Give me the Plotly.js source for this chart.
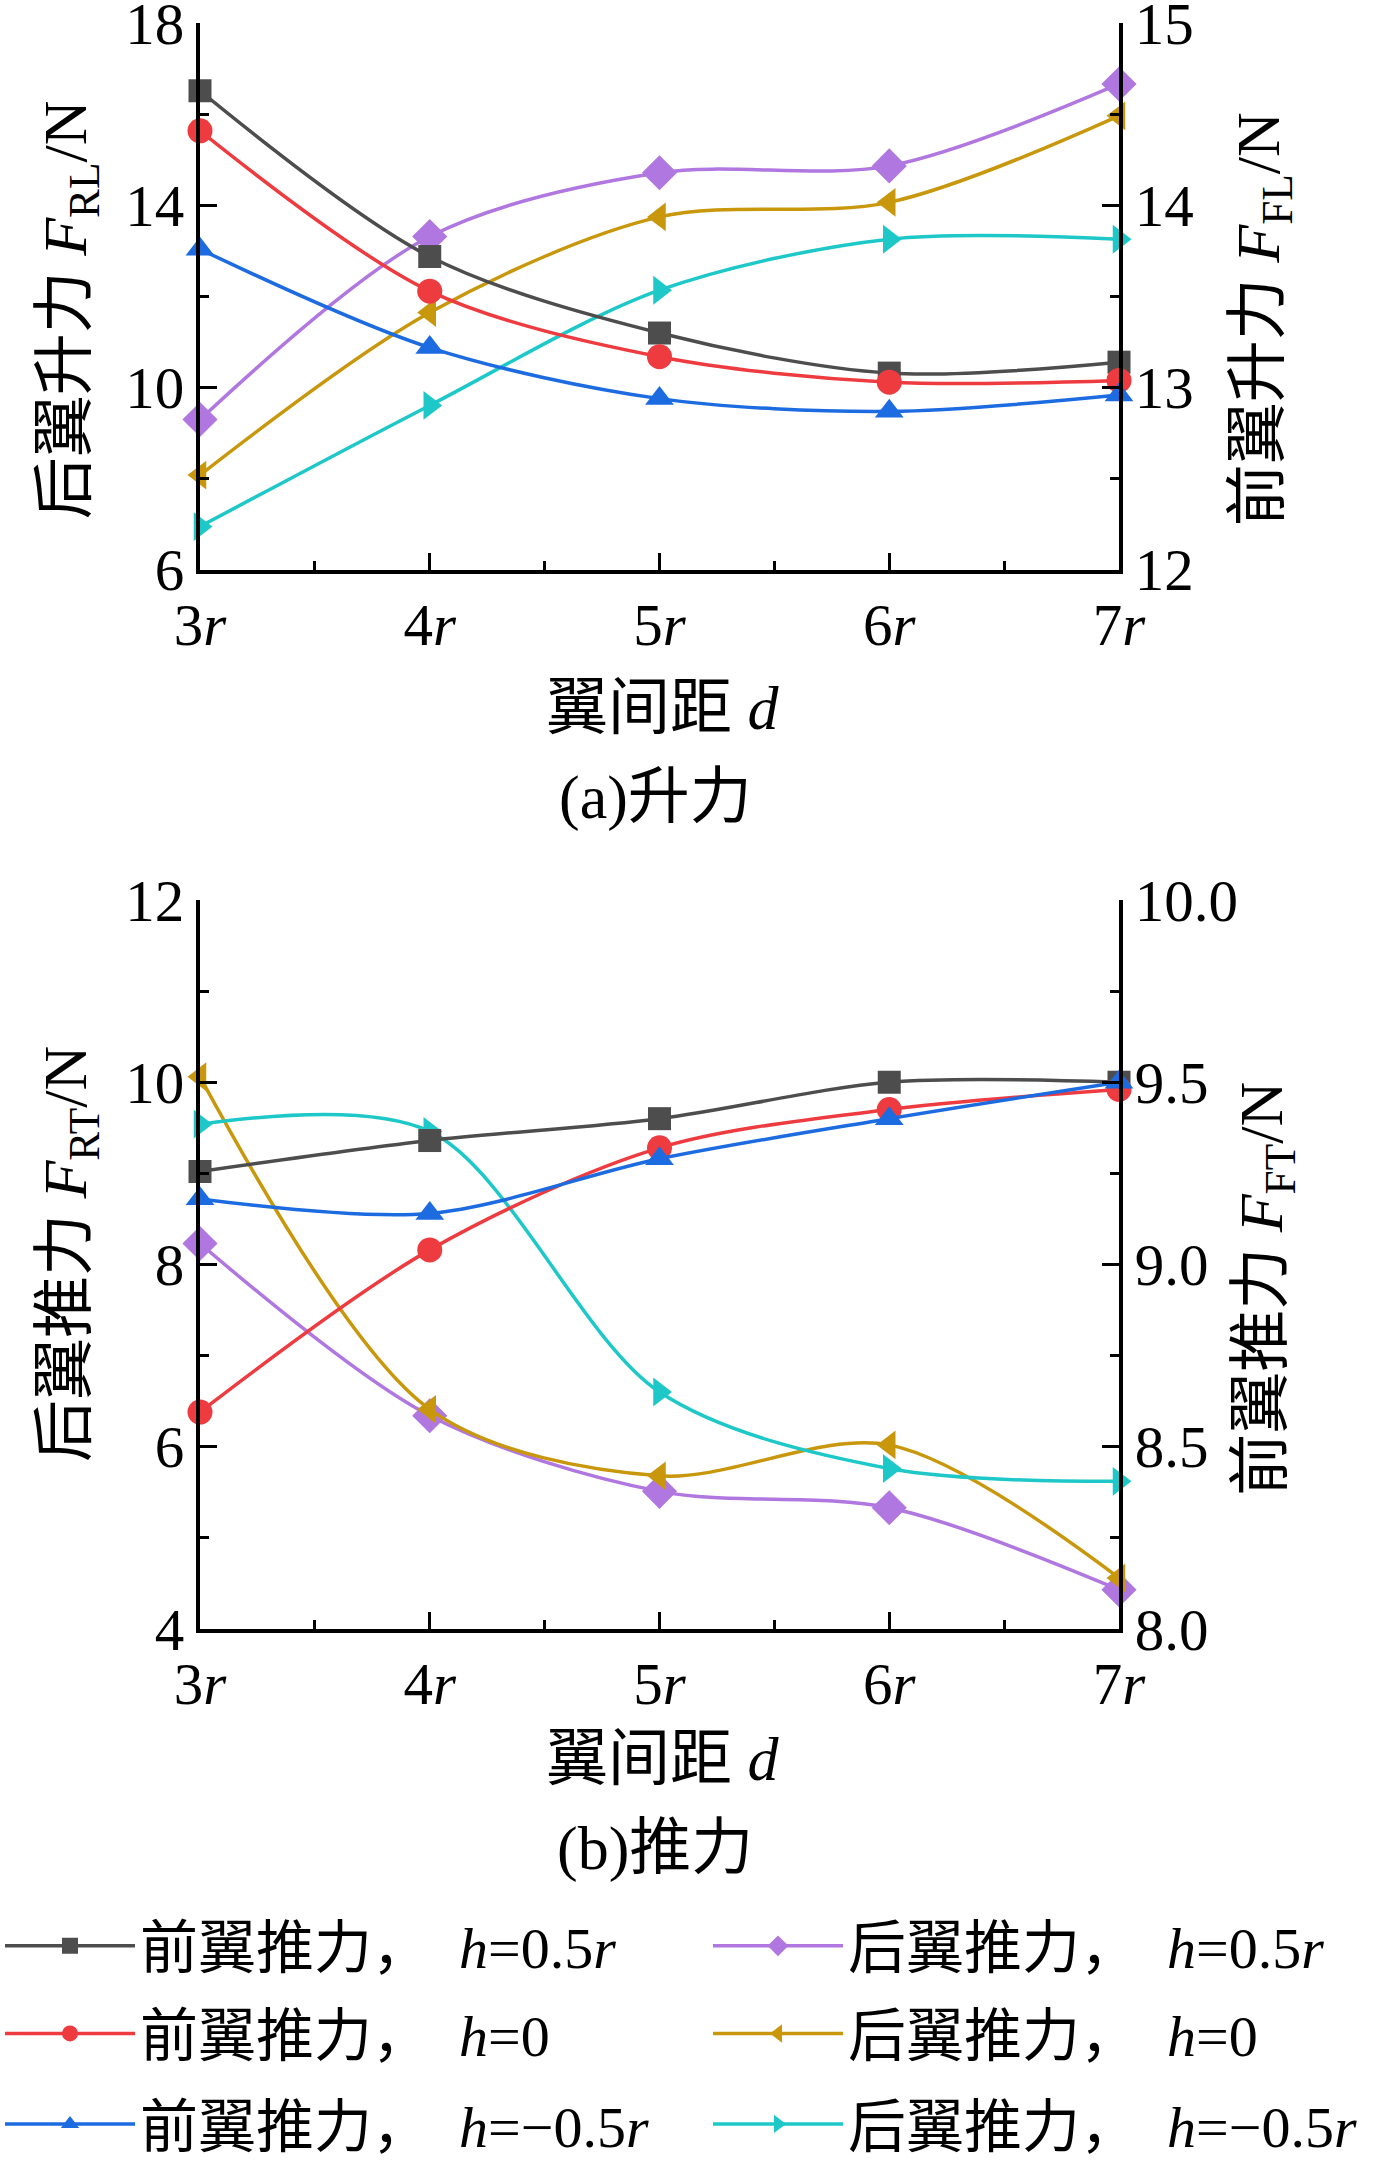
<!DOCTYPE html>
<html>
<head>
<meta charset="utf-8">
<script src="https://cdn.plot.ly/plotly-3.0.1.min.js"></script>
<style>
  html, body { margin: 0; padding: 0; background: #fff; }
  #chart { width: 1382px; height: 2169px; }
</style>
</head>
<body>
<div id="chart"></div>
<script>
// wing spacing d, in units of r
var spacing = [3, 4, 5, 6, 7]
var spacingLabels = ['3<i>r</i>', '4<i>r</i>', '5<i>r</i>', '6<i>r</i>', '7<i>r</i>']

// (a) lift: front wing on right axis, rear wing on left axis
var liftFrontPos = [14.63, 13.72, 13.30, 13.08, 13.14]
var liftFrontZero = [14.41, 13.53, 13.17, 13.03, 13.04]
var liftFrontNeg = [13.76, 13.22, 12.94, 12.87, 12.96]
var liftRearPos = [9.30, 13.32, 14.72, 14.87, 16.67]
var liftRearZero = [8.08, 11.65, 13.75, 14.07, 15.97]
var liftRearNeg = [6.95, 9.61, 12.14, 13.26, 13.26]

// (b) thrust
var thrustFrontPos = [9.255, 9.34, 9.40, 9.50, 9.50]
var thrustFrontZero = [8.595, 9.04, 9.32, 9.425, 9.48]
var thrustFrontNeg = [9.18, 9.14, 9.29, 9.40, 9.50]
var thrustRearPos = [8.23, 6.34, 5.51, 5.33, 4.43]
var thrustRearZero = [10.06, 6.41, 5.68, 6.02, 4.56]
var thrustRearNeg = [9.54, 9.46, 6.60, 5.76, 5.62]

var seriesNames = [
    '前翼推力，\u00a0\u00a0<i>h</i>=0.5<i>r</i>',
    '前翼推力，\u00a0\u00a0<i>h</i>=0',
    '前翼推力，\u00a0\u00a0<i>h</i>=\u22120.5<i>r</i>',
    '后翼推力，\u00a0\u00a0<i>h</i>=0.5<i>r</i>',
    '后翼推力，\u00a0\u00a0<i>h</i>=0',
    '后翼推力，\u00a0\u00a0<i>h</i>=\u22120.5<i>r</i>'
]

var FONT = 'Liberation Serif, "Noto Sans CJK SC", serif'
var TICK_FS = 59
var TITLE_FS = 62
var LEG_FS = 58

var colors = ['#4d4d4d', '#ee3b40', '#1c6be0', '#b077e0', '#c9970c', '#1ec8c8']
var symbols = ['square', 'circle', 'triangle-up', 'diamond', 'triangle-left', 'triangle-right']
var sizes = [23, 25, 25, 27, 25, 25]
// one legend box per series, so each entry sits where the reference has it
var legendIds = ['legend', 'legend2', 'legend3', 'legend4', 'legend5', 'legend6']

function makeTrace(i, ys, xa, ya, showLeg) {
    return {
        x: spacing,
        y: ys,
        xaxis: xa,
        yaxis: ya,
        name: seriesNames[i],
        mode: 'lines+markers',
        line: {color: colors[i], width: 3.5, shape: 'spline', smoothing: 0.9},
        marker: {color: colors[i], symbol: symbols[i], size: sizes[i], line: {width: 0}},
        cliponaxis: false,
        showlegend: showLeg,
        legend: legendIds[i]
    }
}

var traces = [
    makeTrace(0, liftFrontPos, 'x', 'y2', false),
    makeTrace(1, liftFrontZero, 'x', 'y2', false),
    makeTrace(2, liftFrontNeg, 'x', 'y2', false),
    makeTrace(3, liftRearPos, 'x', 'y', false),
    makeTrace(4, liftRearZero, 'x', 'y', false),
    makeTrace(5, liftRearNeg, 'x', 'y', false),
    makeTrace(0, thrustFrontPos, 'x2', 'y4', true),
    makeTrace(1, thrustFrontZero, 'x2', 'y4', true),
    makeTrace(2, thrustFrontNeg, 'x2', 'y4', true),
    makeTrace(3, thrustRearPos, 'x2', 'y3', true),
    makeTrace(4, thrustRearZero, 'x2', 'y3', true),
    makeTrace(5, thrustRearNeg, 'x2', 'y3', true)
]

var xDomain = [200 / 1382, 1119 / 1382]
var topDomain = [1 - 573 / 2169, 1 - 23.5 / 2169]
var botDomain = [1 - 1638 / 2169, 1 - 905 / 2169]

function axisBase(extra) {
    var a = {
        showline: true, linewidth: 4, linecolor: '#000',
        ticks: 'inside', ticklen: 17, tickwidth: 3, tickcolor: '#000',
        showgrid: false, zeroline: false,
        ticklabeloverflow: 'allow',
        tickfont: {family: FONT, size: TICK_FS, color: '#000'},
        fixedrange: true
    }
    return Object.assign(a, extra)
}

function minor(d) {
    return {ticks: 'inside', ticklen: 9, tickwidth: 3, tickcolor: '#000', dtick: d, showgrid: false}
}

function xAxis(anchor) {
    return axisBase({
        domain: xDomain, anchor: anchor, range: [3, 7],
        tickmode: 'array', tickvals: spacing, ticktext: spacingLabels,
        minor: {ticks: 'inside', ticklen: 9, tickwidth: 3, tickcolor: '#000', tickmode: 'linear', tick0: 3, dtick: 0.5, showgrid: false}
    })
}

// paper == page here (zero margins); staying inside [0,1] keeps legends from pushing margins
function legendBox(xLeft, yCenter) {
    return {
        orientation: 'h', xref: 'paper', yref: 'paper',
        x: xLeft / 1382, xanchor: 'left', y: 1 - yCenter / 2169, yanchor: 'middle',
        font: {family: FONT, size: LEG_FS, color: '#000'},
        itemwidth: 130,
        bgcolor: 'rgba(0,0,0,0)', borderwidth: 0
    }
}

function ann(text, x, y, angle) {
    return {
        text: text, xref: 'paper', yref: 'paper', x: x, y: y,
        xanchor: 'center', yanchor: 'middle', showarrow: false,
        textangle: angle || 0,
        font: {family: FONT, size: TITLE_FS, color: '#000'}
    }
}

var layout = {
    width: 1382,
    height: 2169,
    margin: {l: 0, r: 0, t: 0, b: 0},
    paper_bgcolor: '#fff',
    plot_bgcolor: 'rgba(0,0,0,0)',
    showlegend: true,
    xaxis: xAxis('y'),
    yaxis: axisBase({domain: topDomain, anchor: 'x', range: [6, 18], tick0: 6, dtick: 4, minor: minor(2)}),
    yaxis2: axisBase({overlaying: 'y', side: 'right', anchor: 'x', range: [12, 15], tick0: 12, dtick: 1, minor: minor(0.5)}),
    xaxis2: xAxis('y3'),
    yaxis3: axisBase({domain: botDomain, anchor: 'x2', range: [4, 12], tick0: 4, dtick: 2, minor: minor(1)}),
    yaxis4: axisBase({overlaying: 'y3', side: 'right', anchor: 'x2', range: [8, 10], tick0: 8, dtick: 0.5, tickformat: '.1f', minor: minor(0.25)}),
    legend: legendBox(0, 1957),
    legend2: legendBox(0, 2045),
    legend3: legendBox(0, 2136),
    legend4: legendBox(708, 1957),
    legend5: legendBox(708, 2045),
    legend6: legendBox(708, 2136),
    annotations: [
        ann('后翼升力 <i>F</i><sub>RL</sub>/N', 69 / 1382, 1 - 312 / 2169, -90),
        ann('前翼升力 <i>F</i><sub>FL</sub>/N', 1262 / 1382, 1 - 321 / 2169, -90),
        ann('翼间距 <i>d</i>', 663 / 1382, 1 - 712 / 2169),
        ann('(a)升力', 655 / 1382, 1 - 802 / 2169),
        ann('后翼推力 <i>F</i><sub>RT</sub>/N', 69 / 1382, 1 - 1261 / 2169, -90),
        ann('前翼推力 <i>F</i><sub>FT</sub>/N', 1266 / 1382, 1 - 1296 / 2169, -90),
        ann('翼间距 <i>d</i>', 663 / 1382, 1 - 1769 / 2169),
        ann('(b)推力', 655 / 1382, 1 - 1859 / 2169)
    ]
}

Plotly.newPlot('chart', traces, layout, {staticPlot: true, displayModeBar: false})
</script>
</body>
</html>
